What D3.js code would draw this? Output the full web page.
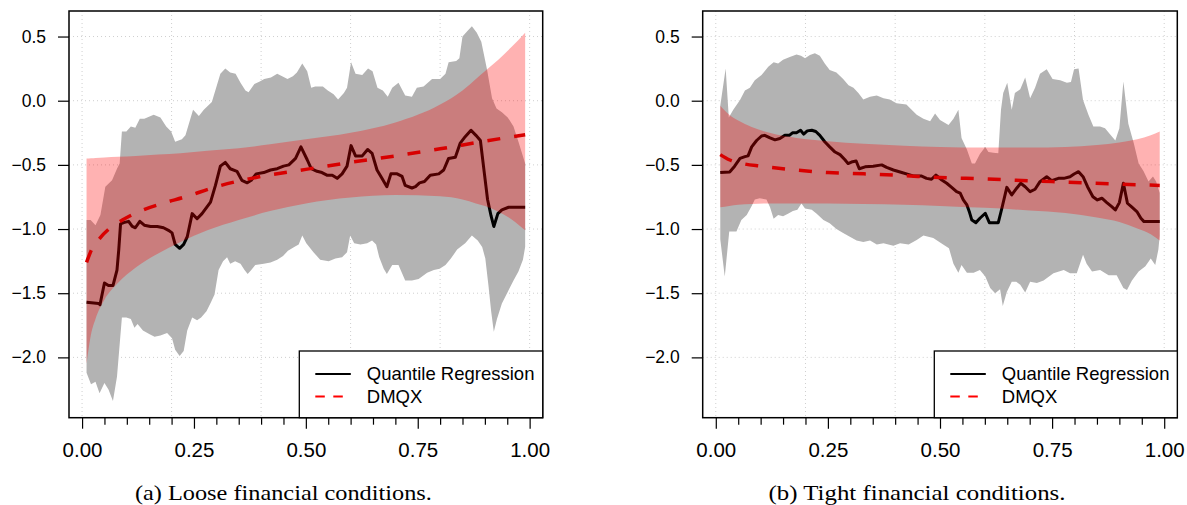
<!DOCTYPE html>
<html><head><meta charset="utf-8">
<script src="https://cdn.jsdelivr.net/npm/d3@7"></script>
<style>
html,body{margin:0;padding:0;background:#fff;}
svg{display:block;}
</style></head>
<body>
<svg id="chart" width="1187" height="505"></svg>
<script>
// ---------- DATA ----------
const xMajorTicks = [0, 0.25, 0.5, 0.75, 1];
const xMinorTicks = [0.05,0.1,0.15,0.2,0.3,0.35,0.4,0.45,0.55,0.6,0.65,0.7,0.8,0.85,0.9,0.95];
const yTicks = [-2, -1.5, -1, -0.5, 0, 0.5];
const xGrid = [0, 0.2, 0.4, 0.6, 0.8, 1];
const legendLabels = ["Quantile Regression", "DMQX"];
const captions = ["(a) Loose financial conditions.", "(b) Tight financial conditions."];

// Panel (a): loose financial conditions
const aGrayUpX = [0.010,0.019,0.030,0.041,0.052,0.067,0.078,0.084,0.089,0.099,0.109,0.119,0.129,0.139,0.160,0.175,0.188,0.199,0.208,0.223,0.231,0.248,0.261,0.272,0.290,0.309,0.320,0.331,0.343,0.354,0.365,0.372,0.385,0.397,0.407,0.422,0.436,0.447,0.459,0.471,0.480,0.492,0.503,0.512,0.521,0.538,0.549,0.562,0.572,0.585,0.592,0.601,0.611,0.626,0.639,0.649,0.660,0.672,0.683,0.693,0.707,0.722,0.737,0.748,0.763,0.782,0.800,0.812,0.819,0.836,0.843,0.850,0.860,0.871,0.882,0.892,0.905,0.916,0.926,0.938,0.951,0.964,0.975,0.990];
const aGrayUpY = [-0.93,-0.93,-0.97,-0.89,-0.67,-0.62,-0.53,-0.49,-0.24,-0.24,-0.20,-0.21,-0.14,-0.14,-0.11,-0.13,-0.20,-0.24,-0.32,-0.30,-0.27,-0.07,-0.12,-0.07,-0.01,0.21,0.25,0.22,0.21,0.14,0.08,0.065,0.13,0.15,0.17,0.18,0.21,0.19,0.17,0.19,0.22,0.29,0.23,0.10,0.11,0.11,0.08,0.05,0.01,0.06,0.10,0.30,0.21,0.20,0.25,0.23,0.10,0.08,0.03,0.10,0.14,0.04,0.03,0.10,0.11,0.17,0.17,0.21,0.30,0.31,0.33,0.50,0.54,0.58,0.53,0.46,0.24,0.02,-0.06,-0.09,-0.13,-0.20,-0.32,-0.49];
const aGrayLoX = [0.010,0.020,0.030,0.039,0.050,0.059,0.069,0.078,0.089,0.099,0.109,0.117,0.124,0.136,0.151,0.162,0.175,0.190,0.201,0.208,0.218,0.227,0.235,0.246,0.257,0.266,0.278,0.288,0.296,0.305,0.315,0.324,0.331,0.342,0.354,0.363,0.370,0.378,0.387,0.406,0.421,0.436,0.449,0.460,0.474,0.484,0.492,0.501,0.517,0.532,0.551,0.566,0.581,0.592,0.599,0.608,0.622,0.637,0.648,0.657,0.664,0.674,0.681,0.693,0.707,0.722,0.737,0.752,0.771,0.786,0.799,0.812,0.824,0.838,0.856,0.871,0.884,0.894,0.901,0.908,0.914,0.920,0.927,0.938,0.951,0.964,0.975,0.985,0.990];
const aGrayLoY = [-2.12,-2.21,-2.19,-2.28,-2.20,-2.25,-2.34,-2.15,-1.69,-1.69,-1.70,-1.77,-1.74,-1.79,-1.82,-1.84,-1.83,-1.81,-1.85,-1.94,-1.99,-1.95,-1.79,-1.69,-1.71,-1.69,-1.64,-1.57,-1.51,-1.32,-1.25,-1.22,-1.27,-1.25,-1.27,-1.32,-1.35,-1.32,-1.28,-1.27,-1.26,-1.24,-1.21,-1.17,-1.14,-1.12,-1.05,-1.11,-1.18,-1.24,-1.25,-1.23,-1.22,-1.18,-1.05,-1.11,-1.12,-1.11,-1.09,-1.12,-1.22,-1.31,-1.35,-1.28,-1.28,-1.40,-1.40,-1.39,-1.34,-1.32,-1.31,-1.28,-1.23,-1.16,-1.11,-1.05,-1.09,-1.14,-1.23,-1.44,-1.64,-1.80,-1.70,-1.58,-1.49,-1.40,-1.33,-1.24,-1.14];
const aQrX = [0.010,0.037,0.040,0.050,0.059,0.069,0.078,0.082,0.086,0.093,0.104,0.112,0.119,0.129,0.139,0.153,0.168,0.182,0.193,0.201,0.208,0.218,0.227,0.235,0.246,0.257,0.268,0.287,0.298,0.309,0.320,0.331,0.346,0.357,0.369,0.378,0.389,0.406,0.421,0.436,0.450,0.462,0.477,0.489,0.503,0.512,0.525,0.536,0.547,0.559,0.570,0.581,0.592,0.601,0.611,0.626,0.638,0.648,0.659,0.670,0.681,0.690,0.704,0.715,0.722,0.737,0.745,0.754,0.765,0.778,0.797,0.808,0.819,0.834,0.845,0.856,0.869,0.880,0.890,0.899,0.906,0.914,0.920,0.929,0.938,0.953,0.990];
const aQrY = [-1.57,-1.58,-1.59,-1.42,-1.44,-1.44,-1.32,-1.16,-0.96,-0.95,-0.94,-0.98,-0.99,-0.94,-0.97,-0.98,-0.98,-0.99,-1.01,-1.03,-1.12,-1.15,-1.12,-1.06,-0.88,-0.92,-0.88,-0.79,-0.66,-0.51,-0.48,-0.53,-0.55,-0.62,-0.64,-0.62,-0.57,-0.56,-0.54,-0.53,-0.51,-0.50,-0.45,-0.36,-0.46,-0.53,-0.55,-0.56,-0.58,-0.58,-0.605,-0.57,-0.51,-0.35,-0.43,-0.43,-0.38,-0.41,-0.54,-0.605,-0.67,-0.57,-0.57,-0.59,-0.66,-0.68,-0.67,-0.64,-0.63,-0.58,-0.57,-0.54,-0.45,-0.44,-0.33,-0.28,-0.23,-0.27,-0.31,-0.57,-0.77,-0.90,-0.98,-0.88,-0.85,-0.83,-0.83];
const aBandX = [0.01,0.02,0.03,0.05,0.08,0.12,0.17,0.22,0.28,0.35,0.42,0.50,0.60,0.70,0.80,0.85,0.88,0.90,0.93,0.96,0.99];
const aBandUp = [-0.45,-0.448,-0.446,-0.442,-0.437,-0.43,-0.42,-0.41,-0.39,-0.37,-0.34,-0.30,-0.25,-0.17,-0.03,0.08,0.17,0.23,0.32,0.42,0.53];
const aBandLo = [-2.05,-1.82,-1.70,-1.55,-1.42,-1.30,-1.19,-1.10,-1.01,-0.93,-0.86,-0.80,-0.755,-0.735,-0.745,-0.77,-0.80,-0.82,-0.865,-0.925,-1.01];
const aDmqxX = [0.01,0.02,0.04,0.06,0.09,0.13,0.18,0.23,0.30,0.40,0.50,0.60,0.70,0.80,0.90,0.99];
const aDmqxY = [-1.26,-1.17,-1.07,-1.00,-0.93,-0.86,-0.80,-0.75,-0.67,-0.59,-0.535,-0.48,-0.43,-0.375,-0.315,-0.265];

// Panel (b): tight financial conditions
const bGrayUpX = [0.010,0.022,0.029,0.039,0.054,0.065,0.076,0.087,0.102,0.117,0.129,0.139,0.150,0.165,0.180,0.190,0.199,0.210,0.221,0.232,0.243,0.254,0.269,0.284,0.296,0.307,0.318,0.329,0.344,0.359,0.374,0.388,0.403,0.425,0.448,0.463,0.478,0.489,0.500,0.519,0.530,0.541,0.548,0.560,0.571,0.578,0.589,0.601,0.608,0.619,0.630,0.636,0.641,0.650,0.660,0.667,0.679,0.690,0.701,0.712,0.723,0.738,0.751,0.768,0.783,0.792,0.799,0.809,0.819,0.831,0.842,0.857,0.868,0.881,0.891,0.900,0.909,0.920,0.932,0.943,0.954,0.965,0.975,0.982,0.990];
const bGrayUpY = [-0.04,0.25,-0.13,-0.07,0.005,0.08,0.10,0.16,0.20,0.265,0.30,0.29,0.32,0.34,0.36,0.35,0.33,0.356,0.37,0.35,0.29,0.24,0.22,0.17,0.12,0.10,0.06,0.01,0.03,0.04,0.02,0.01,-0.02,-0.03,-0.11,-0.14,-0.16,-0.10,-0.15,-0.19,-0.14,-0.07,-0.29,-0.38,-0.49,-0.49,-0.415,-0.36,-0.40,-0.405,-0.41,-0.07,0.06,0.14,-0.07,0.06,0.09,0.18,0.02,0.10,0.21,0.245,0.17,0.16,0.14,0.145,0.245,0.25,0.005,-0.11,-0.20,-0.20,-0.215,-0.27,-0.31,-0.215,0.15,-0.18,-0.33,-0.49,-0.55,-0.63,-0.59,-0.63,-0.72];
const bGrayLoX = [0.010,0.020,0.030,0.046,0.057,0.069,0.080,0.087,0.098,0.113,0.121,0.129,0.139,0.150,0.161,0.172,0.182,0.191,0.199,0.214,0.225,0.240,0.254,0.269,0.284,0.299,0.314,0.329,0.344,0.359,0.374,0.396,0.411,0.430,0.448,0.463,0.485,0.507,0.520,0.530,0.541,0.548,0.560,0.575,0.589,0.601,0.612,0.623,0.634,0.640,0.649,0.660,0.670,0.679,0.690,0.701,0.716,0.731,0.753,0.776,0.790,0.805,0.819,0.827,0.839,0.857,0.876,0.894,0.909,0.917,0.928,0.943,0.958,0.970,0.980,0.987,0.990];
const bGrayLoY = [-1.08,-1.37,-1.02,-1.02,-0.93,-0.89,-0.82,-0.77,-0.76,-0.77,-0.83,-0.92,-0.89,-0.90,-0.88,-0.86,-0.85,-0.80,-0.84,-0.85,-0.88,-0.93,-0.955,-1.00,-1.03,-1.06,-1.09,-1.10,-1.09,-1.12,-1.11,-1.13,-1.11,-1.12,-1.085,-1.05,-1.07,-1.12,-1.15,-1.27,-1.34,-1.28,-1.34,-1.34,-1.32,-1.37,-1.46,-1.50,-1.47,-1.60,-1.49,-1.41,-1.41,-1.435,-1.495,-1.41,-1.42,-1.40,-1.345,-1.32,-1.345,-1.345,-1.20,-1.27,-1.33,-1.32,-1.36,-1.36,-1.46,-1.475,-1.40,-1.33,-1.29,-1.23,-1.28,-1.16,-1.05];
const bQrX = [0.010,0.031,0.042,0.054,0.065,0.072,0.080,0.091,0.102,0.109,0.121,0.132,0.143,0.154,0.164,0.171,0.180,0.189,0.196,0.204,0.214,0.223,0.232,0.243,0.254,0.266,0.277,0.288,0.295,0.305,0.313,0.320,0.333,0.351,0.370,0.381,0.396,0.411,0.440,0.458,0.470,0.481,0.491,0.504,0.515,0.526,0.537,0.545,0.552,0.560,0.566,0.571,0.580,0.589,0.601,0.610,0.630,0.638,0.649,0.660,0.671,0.680,0.690,0.701,0.712,0.723,0.738,0.749,0.764,0.776,0.790,0.799,0.809,0.819,0.829,0.841,0.851,0.861,0.872,0.883,0.891,0.900,0.909,0.918,0.928,0.939,0.948,0.955,0.990];
const bQrY = [-0.56,-0.555,-0.51,-0.45,-0.436,-0.43,-0.36,-0.31,-0.275,-0.27,-0.29,-0.305,-0.295,-0.27,-0.27,-0.25,-0.25,-0.23,-0.26,-0.235,-0.23,-0.24,-0.27,-0.32,-0.36,-0.40,-0.42,-0.46,-0.49,-0.475,-0.47,-0.53,-0.515,-0.51,-0.50,-0.52,-0.54,-0.555,-0.586,-0.586,-0.605,-0.612,-0.58,-0.618,-0.643,-0.675,-0.709,-0.72,-0.773,-0.812,-0.872,-0.93,-0.95,-0.916,-0.877,-0.95,-0.95,-0.838,-0.675,-0.734,-0.682,-0.643,-0.67,-0.709,-0.69,-0.631,-0.592,-0.623,-0.605,-0.605,-0.592,-0.571,-0.553,-0.592,-0.67,-0.748,-0.773,-0.76,-0.794,-0.826,-0.851,-0.794,-0.643,-0.799,-0.83,-0.864,-0.916,-0.942,-0.942];
const bBandX = [0.01,0.03,0.05,0.08,0.12,0.18,0.25,0.33,0.42,0.50,0.60,0.70,0.78,0.85,0.90,0.94,0.97,0.99];
const bBandUp = [-0.04,-0.11,-0.155,-0.205,-0.25,-0.29,-0.315,-0.335,-0.35,-0.36,-0.365,-0.365,-0.36,-0.345,-0.325,-0.30,-0.27,-0.24];
const bBandLo = [-0.83,-0.82,-0.81,-0.805,-0.80,-0.80,-0.80,-0.805,-0.81,-0.82,-0.835,-0.855,-0.875,-0.91,-0.945,-0.995,-1.04,-1.09];
const bDmqxX = [0.01,0.03,0.06,0.10,0.18,0.25,0.33,0.40,0.45,0.60,0.75,0.90,0.99];
const bDmqxY = [-0.42,-0.46,-0.49,-0.51,-0.54,-0.56,-0.57,-0.58,-0.59,-0.61,-0.63,-0.65,-0.66];

// ---------- DRAWING ----------
const svg = d3.select("#chart");
const zip = (xs, ys) => xs.map((v, i) => [v, ys[i]]);
const SANS = "'Liberation Sans', Arial, Helvetica, sans-serif";

function panel(cfg) {
  const top = 11, bottom = 417.7;
  const x = d3.scaleLinear().domain([-0.0292, 1.0292]).range([cfg.x0, cfg.x1]);
  const y = d3.scaleLinear().domain([-2.47, 0.699]).range([bottom, top]);
  const g = svg.append("g");

  // grid
  g.append("g").selectAll("line").data(xGrid).join("line")
    .attr("x1", d => x(d)).attr("x2", d => x(d)).attr("y1", top).attr("y2", bottom)
    .attr("stroke", "#cfcfcf").attr("stroke-width", 1).attr("stroke-dasharray", "1,3");
  g.append("g").selectAll("line").data(yTicks).join("line")
    .attr("x1", cfg.x0).attr("x2", cfg.x1).attr("y1", d => y(d)).attr("y2", d => y(d))
    .attr("stroke", "#cfcfcf").attr("stroke-width", 1).attr("stroke-dasharray", "1,3");

  const line = d3.line().x(d => x(d[0])).y(d => y(d[1]));

  // gray QR band
  const up = zip(cfg.gux, cfg.guy), lo = zip(cfg.glx, cfg.gly).reverse();
  g.append("path").attr("d", line(up.concat(lo)) + "Z").attr("fill", "#b3b3b3").attr("stroke", "none");

  // QR line
  g.append("path").attr("d", line(zip(cfg.qx, cfg.qy)))
    .attr("fill", "none").attr("stroke", "#000").attr("stroke-width", 3)
    .attr("stroke-linejoin", "round");

  // DMQX band
  const area = d3.area().curve(d3.curveMonotoneX)
    .x(d => x(d[0])).y0(d => y(d[1])).y1(d => y(d[2]));
  g.append("path").attr("d", area(cfg.bx.map((v, i) => [v, cfg.blo[i], cfg.bup[i]])))
    .attr("fill", "rgba(255,0,0,0.3)").attr("stroke", "none");

  // DMQX line
  const sline = d3.line().curve(d3.curveMonotoneX).x(d => x(d[0])).y(d => y(d[1]));
  g.append("path").attr("d", sline(zip(cfg.dx, cfg.dy)))
    .attr("fill", "none").attr("stroke", "#d80000").attr("stroke-width", 3.5)
    .attr("stroke-dasharray", "13,14");

  // axes
  const xa = g.append("g").attr("transform", `translate(0,${bottom})`)
    .call(d3.axisBottom(x).tickValues(xMajorTicks).tickFormat(d3.format(".2f")).tickSize(11).tickPadding(14));
  xa.select(".domain").remove();
  xa.selectAll("line").attr("stroke-width", 1.2);
  xa.selectAll("text").attr("font-family", SANS).attr("font-size", "20.5px").attr("fill", "#000");
  const xm = g.append("g").attr("transform", `translate(0,${bottom})`)
    .call(d3.axisBottom(x).tickValues(xMinorTicks).tickFormat("").tickSize(7));
  xm.select(".domain").remove();
  xm.selectAll("line").attr("stroke-width", 1.2);

  const ya = g.append("g").attr("transform", `translate(${cfg.x0},0)`)
    .call(d3.axisLeft(y).tickValues(yTicks).tickFormat(d3.format(".1f")).tickSize(11).tickPadding(12));
  ya.select(".domain").remove();
  ya.selectAll("line").attr("stroke-width", 1.2);
  ya.selectAll("text").attr("font-family", SANS).attr("font-size", "17.5px").attr("fill", "#000");

  // box
  g.append("rect").attr("x", cfg.x0).attr("y", top).attr("width", cfg.x1 - cfg.x0).attr("height", bottom - top)
    .attr("fill", "none").attr("stroke", "#000").attr("stroke-width", 1.5);

  // legend
  const lg = g.append("g");
  lg.append("rect").attr("x", cfg.lx).attr("y", 351).attr("width", cfg.x1 - cfg.lx).attr("height", bottom - 351)
    .attr("fill", "#fff").attr("stroke", "#000").attr("stroke-width", 1.3);
  const items = [
    {label: legendLabels[0], color: "#000", dash: null, yy: 374},
    {label: legendLabels[1], color: "#ff0000", dash: "9.5,8.5", yy: 396.5}
  ];
  items.forEach(it => {
    lg.append("line").attr("x1", cfg.lx + 16).attr("x2", cfg.lx + 51.5).attr("y1", it.yy).attr("y2", it.yy)
      .attr("stroke", it.color).attr("stroke-width", 2).attr("stroke-dasharray", it.dash);
    lg.append("text").attr("x", cfg.lx + 67.5).attr("y", it.yy).attr("dy", "0.35em")
      .attr("font-family", SANS).attr("font-size", "18.5px").attr("fill", "#000").text(it.label);
  });

  // caption
  g.append("text").attr("x", cfg.cx).attr("y", 500).attr("text-anchor", "middle")
    .attr("font-family", "'Liberation Serif', 'Times New Roman', serif").attr("font-size", "22px")
    .attr("textLength", 297).attr("lengthAdjust", "spacingAndGlyphs")
    .attr("fill", "#000").text(cfg.caption);
}

panel({x0: 69, x1: 542.7, lx: 299.3, cx: 283.4, caption: captions[0],
  gux: aGrayUpX, guy: aGrayUpY, glx: aGrayLoX, gly: aGrayLoY,
  qx: aQrX, qy: aQrY, bx: aBandX, bup: aBandUp, blo: aBandLo, dx: aDmqxX, dy: aDmqxY});
panel({x0: 702.7, x1: 1177.3, lx: 934.3, cx: 917, caption: captions[1],
  gux: bGrayUpX, guy: bGrayUpY, glx: bGrayLoX, gly: bGrayLoY,
  qx: bQrX, qy: bQrY, bx: bBandX, bup: bBandUp, blo: bBandLo, dx: bDmqxX, dy: bDmqxY});
</script>
</body></html>
